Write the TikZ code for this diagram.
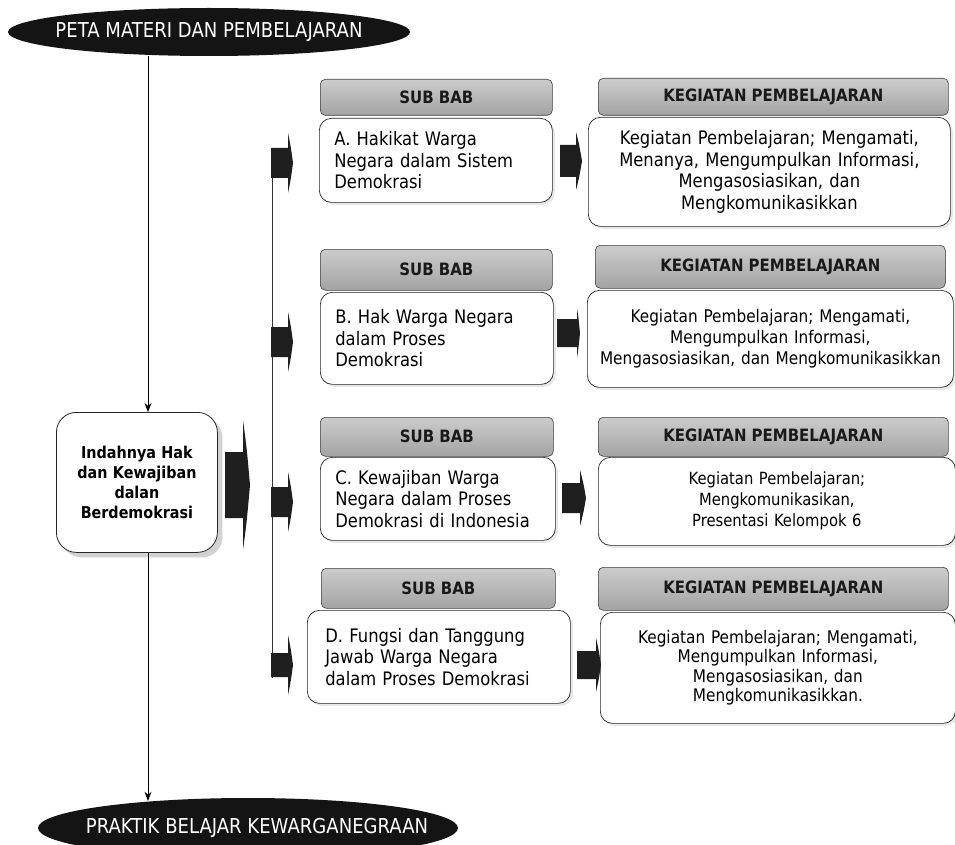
\documentclass[tikz,border=0pt]{standalone}
\usepackage{fontspec}
\setmainfont{DejaVu Sans}[FakeStretch=0.88]
\usetikzlibrary{shapes.geometric,shadows,arrows.meta}
\newcommand\blkarrow[6]{%
  \fill[black!88] (#1,#2-#4) -- (#3,#2-#4) -- (#3,#2-#5)
    .. controls (#3+0.55*#6-0.55*#3,#2-0.55*#5) .. (#6,#2)
    .. controls (#3+0.55*#6-0.55*#3,#2+0.55*#5) .. (#3,#2+#5)
    -- (#3,#2+#4) -- (#1,#2+#4) -- cycle;}
\begin{document}
\begin{tikzpicture}[x=1pt,y=-1pt,
  darkell/.style={ellipse, fill=black!92, text=white, inner sep=0pt, font=\fontsize{20.5}{24}\selectfont},
  hdr/.style={anchor=north west, draw=black!75, line width=0.6pt, rounded corners=5pt,
    top color=gray!40, bottom color=gray!72, text=black!90,
    font=\fontsize{17}{20}\selectfont\bfseries, inner sep=0pt},
  subtxt/.style={anchor=north west, draw=black!85, line width=0.7pt, rounded corners=12pt,
    fill=white, align=left, inner xsep=15pt, inner ysep=0pt,
    font=\fontsize{18.6}{21.5}\selectfont,
    drop shadow={opacity=0.18,shadow xshift=2.5pt,shadow yshift=-2.5pt}},
  kegtxt/.style={anchor=north west, draw=black!85, line width=0.7pt, rounded corners=12pt,
    fill=white, align=center, inner xsep=5pt, inner ysep=0pt,
    font=\fontsize{18.6}{21.5}\selectfont,
    drop shadow={opacity=0.18,shadow xshift=2.5pt,shadow yshift=-2.5pt}},
  mainbox/.style={anchor=north west, draw=black!85, line width=0.8pt, rounded corners=20pt,
    fill=white, align=center, inner xsep=4pt, inner ysep=0pt,
    font=\fontsize{16.3}{20}\selectfont\bfseries,
    drop shadow={opacity=0.35,shadow xshift=5pt,shadow yshift=-5pt}},
  conn/.style={line width=0.8pt, -{Stealth[length=9pt,width=7pt]}},
  spine/.style={line width=0.8pt, black!80}]
\useasboundingbox (0,0) rectangle (955,845);
\fill[white] (0,0) rectangle (955,845);

% terminals
\node[darkell, minimum width=402pt, minimum height=48pt] (top) at (209,32)
  {\makebox[0pt]{PETA MATERI DAN PEMBELAJARAN}};
\node[darkell, minimum width=420pt, minimum height=60pt] (bot) at (248,828)
  {\makebox[0pt]{\hspace*{18pt}PRAKTIK BELAJAR KEWARGANEGRAAN}};

% main box
\node[mainbox, text width=153pt, minimum height=140pt] (main) at (56,412)
  {Indahnya Hak\\dan Kewajiban\\dalan\\Berdemokrasi};

% sub bab
\node[hdr, minimum width=232pt, minimum height=36pt] (hA) at (320,79) {SUB BAB};
\node[subtxt, text width=203pt, minimum height=84pt] (sA) at (319,118)
  {A. Hakikat Warga\\Negara dalam Sistem\\Demokrasi};
\node[hdr, minimum width=232pt, minimum height=41pt] (hB) at (320,249) {SUB BAB};
\node[subtxt, text width=203pt, minimum height=92pt] (sB) at (320,292)
  {B. Hak Warga Negara\\dalam Proses\\Demokrasi};
\node[hdr, minimum width=233pt, minimum height=39pt] (hC) at (320,417) {SUB BAB};
\node[subtxt, text width=205pt, minimum height=83pt] (sC) at (320,457)
  {C. Kewajiban Warga\\Negara dalam Proses\\Demokrasi di Indonesia};
\node[hdr, minimum width=234pt, minimum height=40pt] (hD) at (321,568) {SUB BAB};
\node[subtxt, text width=227pt, inner xsep=18pt, minimum height=93pt] (sD) at (307,610)
  {D. Fungsi dan Tanggung\\Jawab Warga Negara\\dalam Proses Demokrasi};

% kegiatan
\node[hdr, minimum width=350pt, minimum height=37pt] (kA) at (598,78) {KEGIATAN PEMBELAJARAN};
\node[kegtxt, text width=352pt, minimum height=109pt] (tA) at (588,117)
  {Kegiatan Pembelajaran; Mengamati,\\Menanya, Mengumpulkan Informasi,\\Mengasosiasikan, dan\\Mengkomunikasikkan};
\node[hdr, minimum width=350pt, minimum height=43pt] (kB) at (595,245) {KEGIATAN PEMBELAJARAN};
\node[kegtxt, text width=356pt, minimum height=97pt, font=\fontsize{17.4}{21}\selectfont] (tB) at (587,290)
  {Kegiatan Pembelajaran; Mengamati,\\Mengumpulkan Informasi,\\Mengasosiasikan, dan Mengkomunikasikkan};
\node[hdr, minimum width=350pt, minimum height=39pt] (kC) at (598,417) {KEGIATAN PEMBELAJARAN};
\node[kegtxt, text width=347pt, minimum height=88pt, font=\fontsize{16.8}{21}\selectfont] (tC) at (598,457)
  {Kegiatan Pembelajaran;\\Mengkomunikasikan,\\Presentasi Kelompok 6};
\node[hdr, minimum width=350pt, minimum height=43pt] (kD) at (598,567) {KEGIATAN PEMBELAJARAN};
\node[kegtxt, text width=345pt, minimum height=111pt, font=\fontsize{17.4}{19.5}\selectfont] (tD) at (600,612)
  {Kegiatan Pembelajaran; Mengamati,\\Mengumpulkan Informasi,\\Mengasosiasikan, dan\\Mengkomunikasikkan.};

% connectors
\coordinate (lx) at (148,0);
\draw[conn] (top.south -| lx) -- (main.north -| lx);
\draw[conn, shorten >=-3pt] (main.south -| lx) -- (bot.north -| lx);
\coordinate (spT) at (272,148);
\coordinate (spB) at (272,678);
\draw[spine] (spT) -- (spB);

% block arrows
\blkarrow{225}{485}{243}{33}{65}{250}
\blkarrow{271}{163}{288}{15}{30}{293}
\blkarrow{271}{342}{288}{15}{30}{293}
\blkarrow{271}{502}{288}{15}{30}{293}
\blkarrow{271}{665}{288}{12}{30}{293}
\blkarrow{560}{161}{576}{16}{29}{582}
\blkarrow{557}{333}{577}{14}{25}{580}
\blkarrow{562}{498}{580}{15}{28}{586}
\blkarrow{577}{665}{596}{14}{27}{601}
\end{tikzpicture}
\end{document}
